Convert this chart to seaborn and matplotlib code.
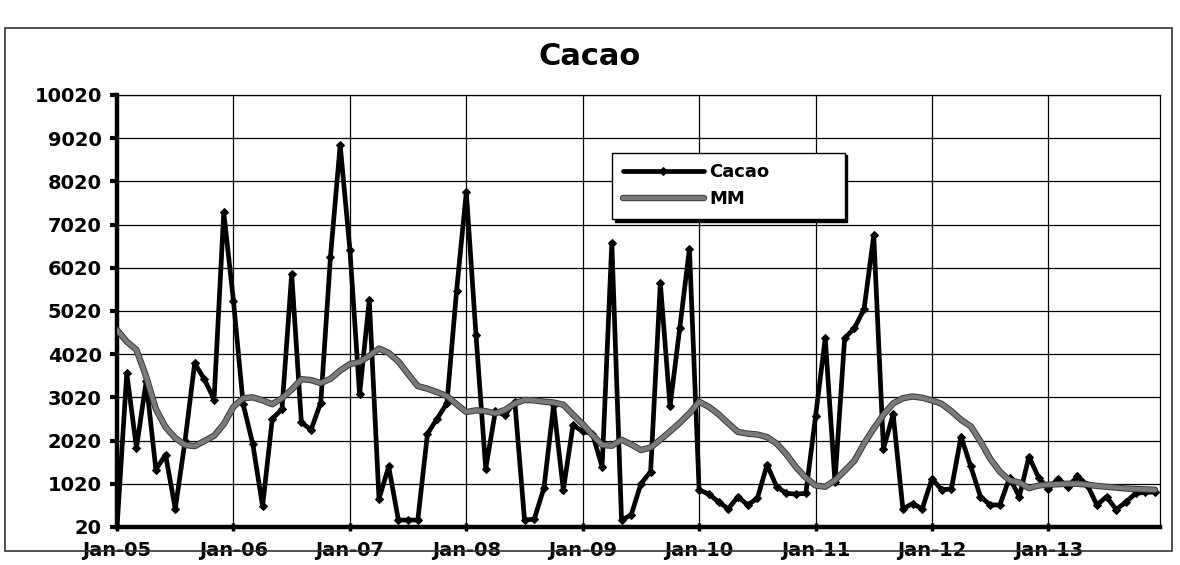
import numpy as np
import pandas as pd
import matplotlib
matplotlib.use("Agg")
import matplotlib.pyplot as plt
import matplotlib.patheffects as pe
from matplotlib.patches import Rectangle
import seaborn as sns

# Monthly values Jan-05 .. Dec-13
years = ["05", "06", "07", "08", "09", "10", "11", "12", "13"]

cacao_2005 = [20, 3580, 1850, 3390, 1350, 1690, 440, 2000, 3810, 3440, 2970, 7300]
cacao_2006 = [5250, 2860, 1930, 500, 2520, 2750, 5880, 2440, 2270, 2900, 6280, 8860]
cacao_2007 = [6440, 3090, 5280, 670, 1420, 180, 180, 180, 2180, 2530, 2880, 5490]
cacao_2008 = [7770, 4460, 1370, 2700, 2610, 2920, 180, 200, 920, 2840, 880, 2380]
cacao_2009 = [2230, 2180, 1410, 6600, 180, 300, 1020, 1300, 5670, 2810, 4620, 6460]
cacao_2010 = [880, 780, 600, 440, 720, 530, 680, 1460, 950, 800, 780, 800]
cacao_2011 = [2580, 4390, 1070, 4390, 4620, 5060, 6770, 1830, 2630, 440, 560, 440]
cacao_2012 = [1140, 880, 900, 2110, 1420, 720, 530, 530, 1160, 720, 1650, 1160]
cacao_2013 = [900, 1140, 950, 1190, 1000, 530, 720, 420, 600, 800, 820, 830]

mm_2005 = [4580, 4310, 4120, 3500, 2750, 2330, 2080, 1920, 1890, 2010, 2130, 2400]
mm_2006 = [2800, 3000, 3020, 2950, 2860, 3000, 3200, 3440, 3420, 3350, 3450, 3640]
mm_2007 = [3790, 3840, 3980, 4150, 4050, 3850, 3560, 3280, 3220, 3140, 3050, 2860]
mm_2008 = [2680, 2720, 2700, 2650, 2730, 2880, 2960, 2950, 2920, 2900, 2850, 2620]
mm_2009 = [2400, 2150, 1920, 1900, 2040, 1930, 1800, 1860, 2040, 2230, 2430, 2650]
mm_2010 = [2920, 2800, 2630, 2420, 2220, 2180, 2160, 2100, 1950, 1700, 1400, 1160]
mm_2011 = [980, 950, 1100, 1320, 1550, 1950, 2300, 2620, 2880, 3000, 3040, 3010]
mm_2012 = [2950, 2870, 2700, 2500, 2350, 2000, 1600, 1300, 1100, 1050, 920, 980]
mm_2013 = [1000, 1010, 1020, 1020, 1000, 970, 950, 930, 910, 900, 890, 880]

cacao = (cacao_2005 + cacao_2006 + cacao_2007 + cacao_2008 + cacao_2009
         + cacao_2010 + cacao_2011 + cacao_2012 + cacao_2013)
mm = (mm_2005 + mm_2006 + mm_2007 + mm_2008 + mm_2009
      + mm_2010 + mm_2011 + mm_2012 + mm_2013)

tick_labels = ["Jan-" + y for y in years]
y_ticks = list(range(20, 10021, 1000))

df = pd.DataFrame({"month": np.arange(len(cacao)), "Cacao": cacao, "MM": mm})

sns.set_style("white")
plt.rcParams["font.family"] = ["DejaVu Sans"]
plt.rcParams["font.weight"] = "bold"
plt.rcParams["text.color"] = "black"

fig = plt.figure(figsize=(11.8, 5.65), dpi=100)
ax = fig.add_axes([0.0992, 0.0673, 0.8838, 0.7647])

sns.lineplot(data=df, x="month", y="Cacao", ax=ax, color="black", lw=3.4,
             marker="D", markersize=4, markeredgecolor="black",
             label="Cacao", zorder=3)
sns.lineplot(data=df, x="month", y="MM", ax=ax, color="#7a7a7a", lw=3.2,
             label="MM", zorder=4,
             path_effects=[pe.Stroke(linewidth=4.6, foreground="#3a3a3a"), pe.Normal()])

ax.set_xlim(0, 107.5)
ax.set_ylim(20, 10020)
ax.set_xticks(range(0, 97, 12))
ax.set_xticklabels(tick_labels)
ax.set_yticks(y_ticks)
ax.set_yticklabels([str(v) for v in y_ticks])
ax.set_xlabel("")
ax.set_ylabel("")

ax.grid(True, color="black", lw=0.9)
ax.set_axisbelow(True)
for side in ["top", "right"]:
    ax.spines[side].set_linewidth(0.9)
    ax.spines[side].set_color("black")
for side in ["left", "bottom"]:
    ax.spines[side].set_linewidth(3.2)
    ax.spines[side].set_color("black")

ax.tick_params(axis="y", direction="out", length=5, width=3, pad=6,
               labelsize=14, colors="black", left=True)
ax.tick_params(axis="x", direction="inout", length=6, width=2.5, pad=7,
               labelsize=14, colors="black", bottom=True)
for lbl in ax.get_xticklabels() + ax.get_yticklabels():
    lbl.set_fontweight("bold")

leg = ax.legend(loc="center", bbox_to_anchor=(0.4746, 0.711, 0.223, 0.157),
                mode="expand", fontsize=13, borderaxespad=0,
                frameon=True, fancybox=False, edgecolor="black",
                framealpha=1, handlelength=4.5, handletextpad=0.3,
                borderpad=0.6, labelspacing=0.5,
                shadow={"color": "black", "alpha": 1})
leg.get_frame().set_linewidth(1.0)
for t in leg.get_texts():
    t.set_fontweight("bold")
    t.set_color("black")

fig.text(0.5, 0.90, "Cacao", ha="center", va="center",
         fontsize=22, fontweight="bold", color="black")

# outer chart border from the scan
fig.patches.append(Rectangle((0.004, 0.025), 0.989, 0.925, transform=fig.transFigure,
                             fill=False, edgecolor="#333333", lw=1.2))

fig.savefig("out.png", dpi=100)
